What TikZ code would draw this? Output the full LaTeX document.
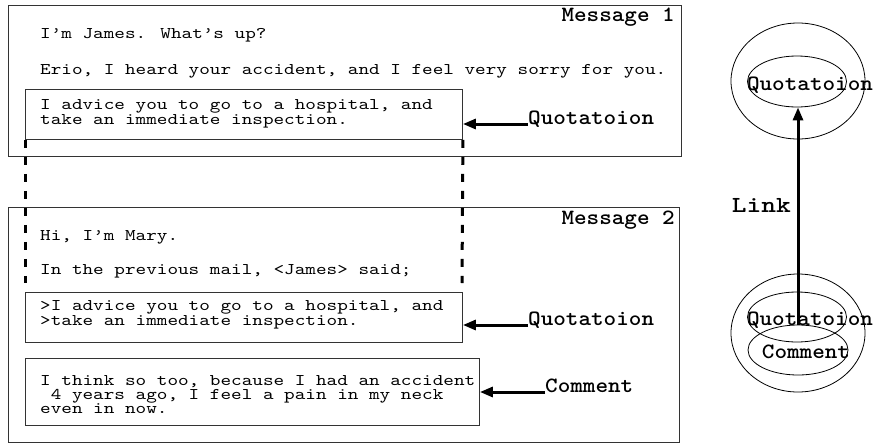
\documentclass[tikz,border=0pt]{standalone}
\usepackage{fontspec}
\newfontfamily\bodytt[Extension=.otf,FakeStretch=1.24]{lmmono10-regular}
\newfontfamily\boldtt[Extension=.otf,FakeStretch=1.1]{lmmonolt10-bold}
\newfontfamily\linktt[Extension=.otf,FakeStretch=1.22]{lmmonolt10-bold}
\usetikzlibrary{arrows.meta,shapes.geometric}
\begin{document}
\begin{tikzpicture}[x=1pt,y=-1pt,
  box/.style={draw=black!80, line width=0.9pt, inner sep=0pt, anchor=north west},
  txt/.style={font=\bodytt\fontsize{16.3}{14}\selectfont, inner sep=0pt, anchor=base west},
  lbl/.style={font=\boldtt\fontsize{21.8}{22}\selectfont, inner sep=0pt},
  arr/.style={line width=3pt, -{Triangle[length=13pt,width=10pt]}},
  dsh/.style={line width=3pt, dash pattern=on 8pt off 9pt},
  ell/.style={ellipse, draw, line width=0.8pt, inner sep=0pt}]
\useasboundingbox (0,0) rectangle (873,445);
% Message 1
\node[box, minimum width=673pt, minimum height=151pt] (m1) at (8,5) {};
\node[box, minimum width=437pt, minimum height=50pt] (q1) at (25,89) {};
\node[lbl, anchor=base east] (mt1) at (675,21) {Message 1};
\node[txt] (a1) at (40,38) {I’m James. What’s up?};
\node[txt] (a2) at (40,74) {Erio, I heard your accident, and I feel very sorry for you.};
\node[txt] (a3) at (40,109) {I advice you to go to a hospital, and};
\node[txt] (a4) at (40,124) {take an immediate inspection.};
% Message 2
\node[box, minimum width=671pt, minimum height=235pt] (m2) at (8,207) {};
\node[box, minimum width=437pt, minimum height=50pt] (q2) at (25,292) {};
\node[box, minimum width=454pt, minimum height=67pt] (c2) at (25,358) {};
\node[lbl, anchor=base east] (mt2) at (675,224) {Message 2};
\node[txt] (b1) at (40,240) {Hi, I’m Mary.};
\node[txt] (b2) at (40,274) {In the previous mail, <James> said;};
\node[txt] (b3) at (40,310) {>I advice you to go to a hospital, and};
\node[txt] (b4) at (40,325) {>take an immediate inspection.};
\node[txt] (b5) at (40,385) {I think so too, because I had an accident};
\node[txt] (b6) at (40,399) {\ 4 years ago, I feel a pain in my neck};
\node[txt] (b7) at (40,413) {even in now.};
% dashed links
\coordinate (dl) at (25,283);
\coordinate (dr) at (462,283);
\draw[dsh] (q1.south west) -- (dl);
\draw[dsh] (q1.south east) -- (dr);
% labels with arrows
\node[lbl, anchor=base west] (lq1) at (528,124) {Quotatoion};
\node[lbl, anchor=base west] (lq2) at (528,325) {Quotatoion};
\node[lbl, anchor=base west] (lc) at (545,392) {Comment};
\draw[arr] (lq1.base west) -- (lq1.base west -| q1.east);
\draw[arr] (lq2.base west) -- (lq2.base west -| q2.east);
\draw[arr] (lc.base west) -- (lc.base west -| c2.east);
% right side
\node[ell, minimum width=134pt, minimum height=116pt] (o1) at (798,81) {};
\node[ell, minimum width=99pt, minimum height=51pt] (i1) at (797,81.5) {};
\node[lbl, anchor=base] (e1) at (810,90) {Quotatoion};
\node[ell, minimum width=134pt, minimum height=118pt] (o2) at (798,333) {};
\node[ell, minimum width=99pt, minimum height=50pt] (i2) at (797,317) {};
\node[ell, minimum width=100pt, minimum height=50pt] (i3) at (798,350) {};
\node[lbl, anchor=base] (e2) at (810,325.5) {Quotatoion};
\node[lbl, anchor=base] (e3) at (806,358.5) {Comment};
\coordinate (lk) at (798,325);
\draw[arr] (lk) -- (lk |- i1.south);
\node[anchor=base east, inner sep=0pt, font=\linktt\fontsize{23}{23}\selectfont] (lnk) at (791,212) {Link};
\end{tikzpicture}
\end{document}
